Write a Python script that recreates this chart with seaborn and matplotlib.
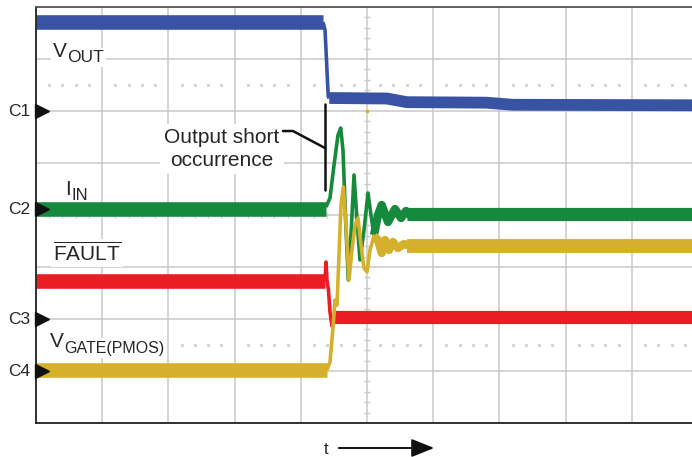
import numpy as np
import pandas as pd
import seaborn as sns
import matplotlib.pyplot as plt

# scope screen: time and level both in divisions (10 x 8 grid, right edge cut off)
vout_pre_t = [0.0, 4.335]
vout_pre_v = [7.71, 7.71]
vout_tr_t = [4.335, 4.366, 4.415, 4.43]
vout_tr_v = [7.71, 7.56, 6.27, 6.25]
vout_post_t = [4.43, 5.3, 5.6, 6.8, 7.2, 9.91]
vout_post_v = [6.25, 6.24, 6.17, 6.16, 6.12, 6.11]

iin_pre_t = [0.0, 4.381]
iin_pre_v = [4.12, 4.12]
iin_tr_t = [4.381, 4.441, 4.502, 4.562, 4.603, 4.637, 4.683, 4.718, 4.758, 4.804, 4.849,
            4.894, 4.955, 5.015, 5.060, 5.106, 5.166, 5.222, 5.317, 5.423, 5.514, 5.589, 5.665]
iin_tr_v = [4.154, 4.327, 4.962, 5.538, 5.673, 5.25, 3.712, 2.75, 3.615, 4.769, 3.904,
            3.135, 3.712, 4.423, 4.0, 3.615, 4.0, 4.192, 3.865, 4.115, 3.942, 4.077, 3.981]
iin_post_t = [5.6, 9.91]
iin_post_v = [4.02, 4.02]

fault_pre_t = [0.0, 4.366]
fault_pre_v = [2.74, 2.74]
fault_tr_t = [4.366, 4.381, 4.396, 4.418, 4.441, 4.471, 4.494]
fault_tr_v = [2.74, 3.096, 2.74, 2.558, 2.135, 1.865, 2.019]
fault_post_t = [4.494, 9.91]
fault_post_v = [2.03, 2.03]

vgate_pre_t = [0.0, 4.396]
vgate_pre_v = [1.02, 1.02]
vgate_tr_t = [4.396, 4.441, 4.486, 4.517, 4.547, 4.577, 4.607, 4.642, 4.683, 4.728, 4.773,
              4.819, 4.864, 4.909, 4.955, 5.0, 5.045, 5.106, 5.166, 5.222, 5.272, 5.332,
              5.393, 5.468, 5.559, 5.650]
vgate_tr_v = [1.02, 1.173, 1.827, 2.365, 2.269, 3.231, 4.192, 4.538, 3.808, 2.75, 3.327,
              3.808, 3.942, 3.423, 2.981, 2.904, 3.327, 3.596, 3.519, 3.269, 3.519, 3.327,
              3.481, 3.365, 3.442, 3.404]
vgate_post_t = [5.6, 9.91]
vgate_post_v = [3.41, 3.41]

channels = ["C1", "C2", "C3", "C4"]
channel_levels = [6.0, 4.11, 2.0, 1.0]

BLUE = "#3953a4"
GREEN = "#168a3c"
RED = "#ec1c24"
YELLOW = "#d5b02c"

sns.set_style("white")
plt.rcParams['font.family'] = ['Liberation Sans', 'DejaVu Sans']
plt.rcParams['mathtext.fontset'] = 'custom'
plt.rcParams['mathtext.rm'] = 'Liberation Sans'
plt.rcParams['mathtext.default'] = 'regular'

fig = plt.figure(figsize=(6.92, 4.57), dpi=100)
ax = fig.add_axes([36 / 692, 34 / 457, 656 / 692, 416 / 457])
ax.set_xlim(0, 656 / 66.2)
ax.set_ylim(0, 8)

ax.set_xticks(np.arange(0, 10))
ax.set_yticks(np.arange(0, 9))
ax.tick_params(length=0, labelbottom=False, labelleft=False)
ax.grid(True, color="#c9c9c9", linewidth=1.1)
ax.set_axisbelow(True)
for s in ["left", "bottom"]:
    ax.spines[s].set_color("#222222")
    ax.spines[s].set_linewidth(1.3)
ax.spines["top"].set_color("#555555")
ax.spines["top"].set_linewidth(1.3)
ax.spines["right"].set_visible(False)

# minor ticks on centre lines and dotted rows
minor = np.array([v for v in np.arange(0, 10.01, 0.2) if abs(v - round(v)) > 0.05])
ax.plot(np.full(minor[minor < 8].size, 5.0), minor[minor < 8], ls="none", marker="_",
        ms=5, mew=1, color="#c9c9c9", zorder=1)
ax.plot(minor, np.full(minor.size, 4.0), ls="none", marker="|", ms=5, mew=1,
        color="#c9c9c9", zorder=1)
for yy in [6.5, 1.5]:
    ax.plot(minor, np.full(minor.size, yy), ls="none", marker="s", ms=1.2,
            color="#d3d3d3", zorder=1)


def trace(t, v, color, lw):
    sns.lineplot(x=t, y=v, sort=False, estimator=None, color=color, linewidth=lw,
                 ax=ax, solid_capstyle="butt", solid_joinstyle="round")


for pre, tr, post, col, lw_post in [
    ((fault_pre_t, fault_pre_v), (fault_tr_t, fault_tr_v), (fault_post_t, fault_post_v), RED, 9.5),
    ((iin_pre_t, iin_pre_v), (iin_tr_t, iin_tr_v), (iin_post_t, iin_post_v), GREEN, 9.5),
    ((vgate_pre_t, vgate_pre_v), (vgate_tr_t, vgate_tr_v), (vgate_post_t, vgate_post_v), YELLOW, 10),
    ((vout_pre_t, vout_pre_v), (vout_tr_t, vout_tr_v), (vout_post_t, vout_post_v), BLUE, 8.5),
]:
    trace(*pre, col, 10.5)
    trace(*tr, col, 2.6)
    # the decaying ripple is smeared by noise, so draw its tail thicker
    tt = np.array(tr[0])
    keep = tt >= 5.08
    if keep.sum() > 1:
        trace(tt[keep], np.array(tr[1])[keep], col, 6)
    trace(*post, col, lw_post)

ax.plot([5.0], [6.0], ls="none", marker="s", ms=2, color=YELLOW)

# channel markers
for name, lev in zip(channels, channel_levels):
    ax.plot([0.09], [lev], marker=">", ms=10, color="#111111", clip_on=False, zorder=5)
    ax.text(-0.09, lev, name, ha="right", va="center", fontsize=12.5, clip_on=False)

box = dict(facecolor="white", edgecolor="none", pad=1.5)
fs = 15


def label(x, y, main, sub, fs_sub, drop, with_box=True):
    t = ax.text(x, y, main, fontsize=fs, ha="left", va="baseline",
                bbox=box if with_box else None, zorder=4)
    ax.annotate(sub, xy=(1.0, 0.0), xycoords=t, xytext=(0.3, -drop),
                textcoords="offset points", fontsize=fs_sub, ha="left", va="bottom",
                bbox=box if with_box else None, zorder=4)


label(0.26, 7.04, "V", "OUT", 12.5, 2.8)
label(0.44, 4.385, "I", "IN", 12, 2.8, with_box=False)
ax.text(0.26, 3.115, r"$\overline{FAULT}$", fontsize=fs, ha="left", va="baseline", bbox=box)
label(0.21, 1.46, "V", "GATE(PMOS)", 11.5, 3.2)

ax.text(2.81, 5.27, "Output short\noccurrence", fontsize=fs, ha="center", va="center",
        linespacing=1.3, bbox=dict(facecolor="white", edgecolor="none", pad=3))
ax.plot([3.731, 3.882, 4.366], [5.615, 5.615, 5.288], color="#111111", lw=1.8, zorder=6)
ax.plot([4.366, 4.366], [6.135, 4.481], color="#111111", lw=1.8, zorder=6)

# time arrow below the screen
fig.text(326 / 692, 1 - 449 / 457, "t", fontsize=12, ha="center", va="center")
ax.annotate("", xy=(437, 9), xytext=(336, 9), xycoords="figure pixels",
            textcoords="figure pixels",
            arrowprops=dict(arrowstyle="-|>,head_length=1.0,head_width=0.4",
                            color="#111111", lw=1.4, mutation_scale=14))

fig.savefig("out.png", dpi=100)
